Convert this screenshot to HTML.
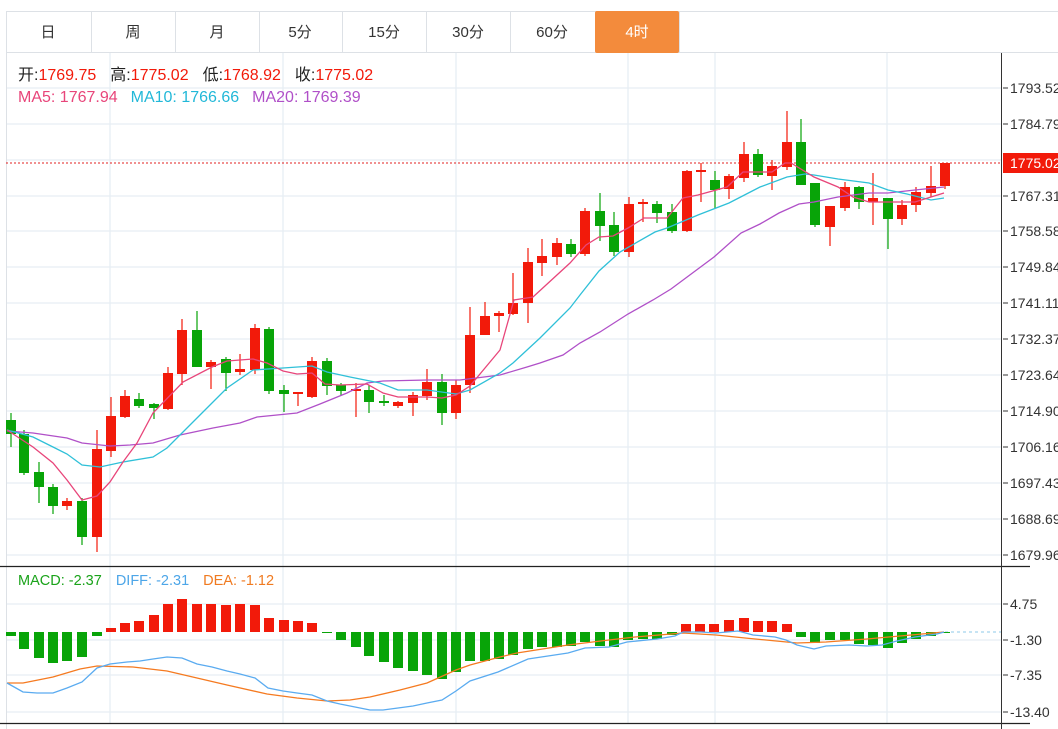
<!DOCTYPE html>
<html><head><meta charset="utf-8"><style>
html,body{margin:0;padding:0;background:#fff;width:1058px;height:729px;overflow:hidden;font-family:"Liberation Sans","Noto Sans CJK SC",sans-serif}
svg{display:block}
</style></head><body>
<svg width="1058" height="729" viewBox="0 0 1058 729" xmlns="http://www.w3.org/2000/svg" font-family="Liberation Sans, Noto Sans CJK SC, sans-serif">
<rect x="6.5" y="11.5" width="1060" height="41" fill="#fff" stroke="#dde1e6"/>
<g stroke="#dde1e6"><path d="M91.5 11V53M175.5 11V53M259.5 11V53M342.5 11V53M426.5 11V53M510.5 11V53M679.5 11V53"/></g>
<rect x="595" y="11" width="84" height="42" rx="2" fill="#f38b3c"/>
<g font-size="15" fill="#333" text-anchor="middle">
<text x="48" y="37">日</text><text x="133" y="37">周</text><text x="217" y="37">月</text><text x="300" y="37">5分</text><text x="384" y="37">15分</text><text x="468" y="37">30分</text><text x="552" y="37">60分</text><text x="637" y="37" fill="#fff">4时</text>
</g>
<g stroke="#e6edf3" stroke-width="1.3">
<path d="M6 88H1001M6 124H1001M6 160H1001M6 196H1001M6 231H1001M6 267H1001M6 303H1001M6 339H1001M6 375H1001M6 411H1001M6 447H1001M6 483H1001M6 519H1001M6 555H1001"/>
<path d="M6 604H1001M6 640H1001M6 675H1001M6 712H1001"/>
<path d="M110 53V723M283 53V723M456 53V723M628 53V723M715 53V723M887 53V723"/>
</g>
<path d="M6.5 53V729" stroke="#dde1e6"/>
<path d="M0 566.5H1030M0 723.5H1030" stroke="#222" stroke-width="1.2"/>
<path d="M1001.5 53V729" stroke="#333"/>
<g font-size="16">
<text x="18" y="80"><tspan fill="#222">开:</tspan><tspan fill="#f21a0a">1769.75</tspan><tspan fill="#222" dx="14">高:</tspan><tspan fill="#f21a0a">1775.02</tspan><tspan fill="#222" dx="14">低:</tspan><tspan fill="#f21a0a">1768.92</tspan><tspan fill="#222" dx="14">收:</tspan><tspan fill="#f21a0a">1775.02</tspan></text>
<text x="18" y="102"><tspan fill="#e8457a">MA5: 1767.94</tspan><tspan fill="#22b8d8" dx="13">MA10: 1766.66</tspan><tspan fill="#b050c8" dx="13">MA20: 1769.39</tspan></text>
</g>
<text x="18" y="585" font-size="14.5"><tspan fill="#1aa31a">MACD: -2.37</tspan><tspan fill="#4da6e8" dx="14">DIFF: -2.31</tspan><tspan fill="#f07a20" dx="14">DEA: -1.12</tspan></text>
<g font-size="14" fill="#333">
<path d="M1003 88h5M1003 124h5M1003 196h5M1003 231h5M1003 267h5M1003 303h5M1003 339h5M1003 375h5M1003 411h5M1003 447h5M1003 483h5M1003 519h5M1003 555h5M1003 604h5M1003 640h5M1003 675h5M1003 712h5" stroke="#333"/>
<text x="1010" y="93">1793.52</text><text x="1010" y="129">1784.79</text><text x="1010" y="201">1767.31</text><text x="1010" y="236">1758.58</text><text x="1010" y="272">1749.84</text><text x="1010" y="308">1741.11</text><text x="1010" y="344">1732.37</text><text x="1010" y="380">1723.64</text><text x="1010" y="416">1714.90</text><text x="1010" y="452">1706.16</text><text x="1010" y="488">1697.43</text><text x="1010" y="524">1688.69</text><text x="1010" y="560">1679.96</text>
<text x="1010" y="609">4.75</text><text x="1010" y="645">-1.30</text><text x="1010" y="680">-7.35</text><text x="1010" y="717">-13.40</text>
</g>
<path d="M6 163H1001" stroke="#e02020" stroke-dasharray="2 2"/>
<rect x="1003" y="153" width="55" height="20" fill="#f21a0a"/>
<text x="1010" y="168" font-size="14" fill="#fff">1775.02</text>
<g fill="#08a408" stroke="#08a408">
<path fill="none" stroke-width="1.2" d="M11 413V447M24 430V475M39 462V503M53 484V514M82 498V545M139 393V408M154 403V419M197 311V367M226 357V391M269 327V394M284 385V412M327 358V395M341 383V395M369 385V413M384 395V406M442 374V425M571 239V257M600 193V241M614 212V256M657 201V223M672 204V233M715 171V208M758 149V177M801 119V185M815 183V227M859 186V209M888 198V249"/>
<path stroke="none" d="M6 420h10v14h-10zM19 434h10v39h-10zM34 472h10v15h-10zM48 487h10v19h-10zM77 501h10v36h-10zM134 399h10v7h-10zM149 404h10v4h-10zM192 330h10v37h-10zM221 359h10v14h-10zM264 329h10v62h-10zM279 390h10v4h-10zM322 361h10v25h-10zM336 385h10v6h-10zM364 390h10v12h-10zM379 401h10v2h-10zM437 382h10v31h-10zM566 244h10v10h-10zM595 211h10v15h-10zM609 225h10v27h-10zM652 204h10v9h-10zM667 212h10v19h-10zM710 180h10v10h-10zM753 154h10v21h-10zM796 142h10v43h-10zM810 183h10v42h-10zM854 187h10v15h-10zM883 198h10v21h-10z"/>
</g>
<g fill="#f21a0a" stroke="#f21a0a">
<path fill="none" stroke-width="1.2" d="M67 498V510M97 430V552M111 397V457M125 390V418M168 367V410M182 319V385M211 360V389M240 354V375M255 324V374M298 392V406M312 357V398M356 383V417M398 401V408M413 392V416M427 369V400M456 380V419M470 307V393M485 302V335M499 311V332M513 273V315M528 248V323M542 239V276M557 238V265M585 208V256M629 197V257M643 199V222M687 170V232M701 163V202M729 174V199M744 142V182M772 160V190M787 111V170M830 206V246M845 182V211M873 173V225M902 200V225M916 187V212M931 166V197M945 163V189"/>
<path stroke="none" d="M62 501h10v5h-10zM92 449h10v88h-10zM106 416h10v35h-10zM120 396h10v21h-10zM163 373h10v36h-10zM177 330h10v44h-10zM206 362h10v5h-10zM235 369h10v3h-10zM250 328h10v42h-10zM293 392h10v2h-10zM307 361h10v36h-10zM351 389h10v2h-10zM393 402h10v4h-10zM408 395h10v8h-10zM422 382h10v14h-10zM451 385h10v28h-10zM465 335h10v50h-10zM480 316h10v19h-10zM494 313h10v3h-10zM508 303h10v11h-10zM523 262h10v41h-10zM537 256h10v7h-10zM552 243h10v14h-10zM580 211h10v43h-10zM624 204h10v48h-10zM638 202h10v2h-10zM682 171h10v60h-10zM696 170h10v2h-10zM724 176h10v13h-10zM739 154h10v24h-10zM767 166h10v10h-10zM782 142h10v25h-10zM825 206h10v21h-10zM840 187h10v21h-10zM868 198h10v4h-10zM897 205h10v14h-10zM911 192h10v13h-10zM926 186h10v7h-10zM940 163h10v23h-10z"/>
</g>
<g fill="none" stroke-width="1.3">
<polyline stroke="#b050c8" points="7,431 33,433 67,438 82,443 110,446 130,445 153,443 180,435 213,428 240,423 257,417 297,413 320,404 347,393 367,383 383,381 427,380 460,380 500,375 527,367 540,363 563,355 580,343 600,332 628,314 653,300 671,289 714,257 741,233 760,224 779,213 799,204 814,202 838,197 869,193 888,193 915,190 944,187"/>
<polyline stroke="#2fc0d8" points="7,430 33,437 53,447 67,454 82,465 100,467 123,462 153,457 167,448 182,433 212,403 227,388 253,370 283,368 312,366 327,372 350,377 380,383 398,390 427,390 456,394 470,390 500,373 513,363 540,338 570,308 580,295 599,271 620,252 655,232 667,228 698,215 729,203 760,187 787,177 805,174 814,175 838,179 869,183 888,190 907,194 931,200 944,198"/>
<polyline stroke="#e8457a" points="7,430 33,447 53,463 67,480 82,500 97,496 110,482 123,462 137,443 153,413 183,382 212,367 227,361 253,359 267,363 283,371 297,374 312,373 325,384 340,385 367,384 383,393 398,397 413,397 427,397 442,398 456,395 470,386 500,350 514,300 533,297 570,263 586,245 599,237 613,236 628,228 644,218 667,218 683,198 698,195 727,187 743,172 772,172 785,163 791,163 814,177 838,187 853,197 869,202 888,202 915,202 931,197 944,193"/>
</g>
<path d="M945 632H1001" stroke="#8cc8e8" stroke-dasharray="3 3"/>
<g fill="#08a408">
<path d="M6 632h10v4h-10zM19 632h10v17h-10zM34 632h10v26h-10zM48 632h10v31h-10zM62 632h10v29h-10zM77 632h10v25h-10zM92 632h10v4h-10zM322 632h10v1h-10zM336 632h10v8h-10zM351 632h10v15h-10zM364 632h10v24h-10zM379 632h10v30h-10zM393 632h10v36h-10zM408 632h10v39h-10zM422 632h10v43h-10zM437 632h10v47h-10zM451 632h10v40h-10zM465 632h10v29h-10zM480 632h10v29h-10zM494 632h10v27h-10zM508 632h10v23h-10zM523 632h10v17h-10zM537 632h10v15h-10zM552 632h10v15h-10zM566 632h10v14h-10zM580 632h10v10h-10zM595 632h10v14h-10zM609 632h10v15h-10zM623 632h10v8h-10zM638 632h10v7h-10zM652 632h10v7h-10zM667 632h10v3h-10zM796 632h10v5h-10zM810 632h10v11h-10zM825 632h10v8h-10zM840 632h10v8h-10zM854 632h10v12h-10zM868 632h10v13h-10zM883 632h10v16h-10zM897 632h10v11h-10zM911 632h10v7h-10zM926 632h10v4h-10zM940 632h10v1h-10z"/>
</g>
<g fill="#f21a0a">
<path d="M106 628h10v4h-10zM120 623h10v9h-10zM134 621h10v11h-10zM149 615h10v17h-10zM163 604h10v28h-10zM177 599h10v33h-10zM192 604h10v28h-10zM206 604h10v28h-10zM221 605h10v27h-10zM235 604h10v28h-10zM250 605h10v27h-10zM264 618h10v14h-10zM279 620h10v12h-10zM293 621h10v11h-10zM307 623h10v9h-10zM681 624h10v8h-10zM695 624h10v8h-10zM709 624h10v8h-10zM724 620h10v12h-10zM739 618h10v14h-10zM753 621h10v11h-10zM767 621h10v11h-10zM782 624h10v8h-10z"/>
</g>
<g fill="none" stroke-width="1.3">
<polyline stroke="#f57a20" points="7,683 23,683 53,677 80,669 97,666 133,667 167,671 197,678 227,685 267,694 297,698 327,701 350,700 370,697 400,690 427,683 456,670 470,665 500,657 517,653 568,645 609,640 635,637 683,633 716,635 745,638 797,643 826,642 867,639 900,636 944,632"/>
<polyline stroke="#5aabf0" points="7,683 23,692 37,693 53,693 67,688 82,682 97,668 110,664 127,662 140,661 153,659 167,657 182,658 197,664 212,667 227,671 240,674 255,678 268,688 283,691 297,693 312,695 327,701 340,704 355,707 370,710 383,710 398,708 413,706 427,703 442,700 456,691 470,681 498,672 528,659 568,653 585,648 609,647 627,642 657,639 675,636 683,632 701,632 716,633 738,631 753,635 775,637 786,640 797,645 814,649 826,646 849,645 867,646 882,645 897,641 915,637 937,634 944,632"/>
</g>
</svg>
</body></html>
